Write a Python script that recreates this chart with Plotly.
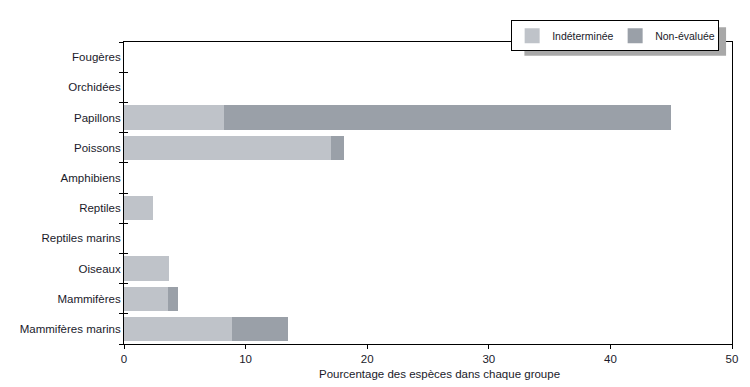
import plotly.graph_objects as go

categories = ["Fougères", "Orchidées", "Papillons", "Poissons", "Amphibiens",
              "Reptiles", "Reptiles marins", "Oiseaux", "Mammifères", "Mammifères marins"]
indeterminee = [0, 0, 8.25, 17.05, 0, 2.4, 0, 3.7, 3.65, 8.9]
non_evaluee = [0, 0, 36.75, 1.05, 0, 0, 0, 0, 0.75, 4.6]
x_ticks = [0, 10, 20, 30, 40, 50]
series_names = ["Indéterminée", "Non-évaluée"]
series_colors = ["#bfc3c9", "#9aa0a8"]

OFF = 8  # page body margin
W, H = 750 - OFF, 387 - OFF
# window-pixel plot area
PX0, PX1, PY0, PY1 = 121, 736, 38, 344
L, R, T, B = PX0 - OFF, 750 - PX1, PY0 - OFF, 387 - PY1
pw, ph = PX1 - PX0, PY1 - PY0

def px_x(x):
    return (x - PX0) / pw

def px_y(y):
    return (PY1 - y) / ph

font = dict(family="Liberation Sans, Arial, sans-serif", size=11.5, color="#1a1a2a")
lfont = dict(family="Liberation Sans, Arial, sans-serif", size=10.5, color="#1a1a2a")

fig = go.Figure()
for vals, name, col in zip([indeterminee, non_evaluee], series_names, series_colors):
    fig.add_trace(go.Bar(y=categories, x=vals, orientation="h", name=name,
                         marker=dict(color=col, line=dict(width=0)), showlegend=False))
# legend swatches (larger squares)
for name, col in zip(series_names, series_colors):
    fig.add_trace(go.Scatter(x=[None], y=[None], mode="markers", name=name,
                             marker=dict(symbol="square", size=15, color=col)))
# invisible trace for inner tick overlay axis
fig.add_trace(go.Scatter(y=categories, x=[0]*len(categories), yaxis="y2", mode="markers",
                         marker=dict(opacity=0), showlegend=False, hoverinfo="skip"))

fig.update_layout(
    width=W, height=H,
    margin=dict(l=L, r=R, t=T, b=B),
    barmode="stack", bargap=0.2,
    plot_bgcolor="white", paper_bgcolor="white",
    font=font,
    xaxis=dict(range=[0, 50], tickvals=x_ticks, ticks="outside", ticklen=4, tickcolor="black",
               showline=True, linecolor="black", linewidth=1, mirror=True,
               showgrid=False, zeroline=False, tickfont=font),
    yaxis=dict(categoryorder="array", categoryarray=categories[::-1], autorange=False,
               range=[-0.5, 9.5], ticks="outside", tickson="boundaries", ticklen=4,
               tickcolor="black", showline=True, linecolor="black", linewidth=1, mirror=True,
               showgrid=False, zeroline=False, tickfont=font),
    yaxis2=dict(overlaying="y", matches="y", side="left", anchor="x", ticks="inside",
                tickson="boundaries", ticklen=4, tickcolor="black", showticklabels=False,
                showline=False, showgrid=False, zeroline=False,
                categoryorder="array", categoryarray=categories[::-1]),
    legend=dict(orientation="h", x=px_x(723), y=px_y(16), xanchor="right", yanchor="top",
                bgcolor="white", bordercolor="black", borderwidth=1,
                font=lfont, entrywidth=58, traceorder="normal"),
    showlegend=True,
)

fig.add_shape(type="rect", xref="paper", yref="paper",
              x0=px_x(526), x1=px_x(730), y0=px_y(52), y1=px_y(23),
              fillcolor="#a8a8a8", line=dict(width=0), layer="above")

fig.add_annotation(text="Pourcentage des espèces dans chaque groupe", xref="paper", yref="paper",
                   x=px_x(440), y=px_y(374), xanchor="center", yanchor="middle",
                   showarrow=False, font=font)

fig.write_html("out.html")
